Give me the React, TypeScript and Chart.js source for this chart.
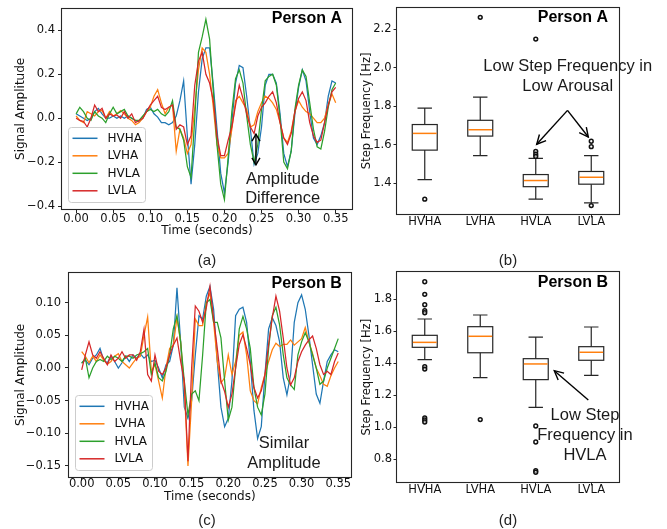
import React, { useEffect, useRef } from "react";
import { Chart, registerables } from "chart.js";

Chart.register(...registerables);

// ---------------- data ----------------
const TIME = [
  0.0, 0.005, 0.01, 0.015, 0.02, 0.025, 0.03, 0.035, 0.04, 0.045,
  0.05, 0.055, 0.06, 0.065, 0.07, 0.075, 0.08, 0.085, 0.09, 0.095,
  0.1, 0.105, 0.11, 0.115, 0.12, 0.125, 0.13, 0.135, 0.14, 0.145,
  0.15, 0.155, 0.16, 0.165, 0.17, 0.175, 0.18, 0.185, 0.19, 0.195,
  0.2, 0.205, 0.21, 0.215, 0.22, 0.225, 0.23, 0.235, 0.24, 0.245,
  0.25, 0.255, 0.26, 0.265, 0.27, 0.275, 0.28, 0.285, 0.29, 0.295,
  0.3, 0.305, 0.31, 0.315, 0.32, 0.325, 0.33, 0.335, 0.34, 0.345,
  0.35,
];
const SERIES = ["HVHA", "LVHA", "HVLA", "LVLA"];
const SERIES_COLORS = ["#1f77b4", "#ff7f0e", "#2ca02c", "#d62728"];

// Person A signals (panel a)
const A_HVHA = [
  0.02, 0.01, 0.0, -0.01, 0.0, 0.03, 0.045, 0.02, 0.0, 0.0,
  0.01, 0.0, 0.01, 0.0, 0.01, 0.0, -0.01, -0.015, 0.0, 0.04,
  0.05, 0.02, 0.005, -0.02, -0.02, -0.03, -0.02, 0.01, 0.08, 0.17,
  -0.08, -0.3, -0.12, 0.12, 0.27, 0.32, 0.32, 0.15, -0.05, -0.25,
  -0.34, -0.2, -0.02, 0.16, 0.24, 0.23, 0.1, -0.05, -0.21, -0.16,
  -0.04, 0.15, 0.2, 0.2, 0.16, 0.02, -0.16, -0.22, -0.15, 0.02,
  0.14, 0.22, 0.17, 0.03, -0.09, -0.12, -0.08, -0.02, 0.1, 0.17,
  0.16,
];
const A_LVHA = [
  0.01, -0.01, -0.02, 0.03, 0.02, 0.01, 0.03, 0.035, 0.0, 0.03,
  0.01, 0.02, 0.035, 0.02, 0.0, -0.01, -0.03, -0.02, 0.0, 0.03,
  0.05, 0.1, 0.13, 0.07, 0.02, 0.05, 0.06, -0.15, -0.05, -0.09,
  -0.16, -0.12, 0.05, 0.22, 0.32, 0.3, 0.2, 0.05, -0.12, -0.18,
  -0.18, -0.16, -0.05, 0.08, 0.1, 0.07, 0.04, -0.04, -0.03, 0.03,
  0.07, 0.1, 0.09, 0.07, 0.04, -0.02, -0.09, -0.11, -0.06, 0.03,
  0.08, 0.05, 0.03, 0.02, 0.0, -0.02, -0.02, 0.0, 0.06, 0.11,
  0.07,
];
const A_HVLA = [
  0.02, 0.05, 0.03, 0.0, -0.01, 0.03, 0.01, 0.0, -0.02, 0.02,
  0.05, 0.02, 0.03, 0.04, 0.01, 0.0, -0.01, -0.01, 0.01, 0.03,
  0.04, 0.03, 0.04, 0.02, 0.01, 0.03, 0.08, -0.04, -0.05, -0.1,
  -0.22, -0.27, 0.0, 0.3, 0.37, 0.45, 0.36, 0.12, -0.12, -0.3,
  -0.37, -0.18, 0.03, 0.18, 0.22, 0.16, 0.01, -0.12, -0.2, -0.12,
  0.04, 0.17, 0.19, 0.2, 0.15, 0.0, -0.2, -0.23, -0.15, 0.04,
  0.15, 0.22, 0.19, 0.07, -0.05, -0.13, -0.14, -0.06, 0.05, 0.13,
  0.16,
];
const A_LVLA = [
  0.0, -0.01, -0.015, -0.04, 0.0, 0.06, 0.03, 0.045, 0.0, 0.02,
  0.01, 0.015, 0.0, 0.03, 0.0, 0.02, -0.02, -0.01, 0.0, 0.03,
  0.06, 0.08, 0.1, 0.05, 0.04, 0.05, 0.06, -0.05, -0.03, -0.04,
  -0.12, -0.08, 0.15, 0.26, 0.3, 0.2, 0.16, 0.08, -0.08, -0.17,
  -0.17, -0.1, -0.04, 0.06, 0.15, 0.09, 0.02, -0.04, -0.07, 0.01,
  0.05, 0.07, 0.1, 0.12, 0.07, -0.02, -0.09, -0.12, -0.07, 0.03,
  0.09, 0.12, 0.08, -0.02, -0.08, -0.11, -0.1, -0.02, 0.06, 0.12,
  0.14,
];

// Person B signals (panel c)
const C_HVHA = [
  0.008, 0.012, 0.005, 0.015, 0.02, 0.03, 0.012, 0.008, 0.018, 0.01,
  0.0, 0.008, 0.018, 0.01, 0.02, 0.015, 0.022, 0.015, 0.02, 0.01,
  0.012, 0.0, -0.015, 0.005, 0.01, 0.035, 0.123, 0.04, -0.06, -0.077,
  -0.05, 0.02, 0.08, 0.075, 0.11, 0.125, 0.09, 0.01, -0.06, -0.09,
  -0.077, -0.02, 0.08, 0.09, 0.093, 0.07, 0.01, -0.065, -0.108, -0.09,
  -0.01, 0.06, 0.077, 0.065, 0.04, -0.015, -0.041, -0.01, 0.07, 0.1,
  0.112, 0.09, 0.05, 0.005, -0.04, -0.054, -0.02, 0.01, 0.02, 0.028,
  0.025,
];
const C_LVHA = [
  0.025, 0.018, 0.008, 0.018, 0.01, 0.02, 0.012, 0.006, 0.01, 0.018,
  0.022, 0.01, 0.005, 0.0, 0.008, 0.015, 0.018, 0.05, 0.078, -0.005,
  0.005, -0.02, -0.046, 0.0, 0.03, 0.035, 0.077, 0.04, -0.03, -0.15,
  -0.05, 0.075, 0.065, 0.065, 0.1, 0.115, 0.07, 0.01, -0.023, -0.015,
  0.02, -0.01, 0.01, 0.05, 0.055, 0.02, -0.035, -0.05, -0.055, -0.03,
  -0.01, 0.01, 0.028, 0.038, 0.033, 0.036, 0.036, 0.043, 0.035, 0.04,
  0.045, 0.062, 0.04, 0.022, 0.0, -0.012, -0.025, -0.028, -0.012, 0.0,
  0.01,
];
const C_HVLA = [
  0.007, 0.015, -0.015, 0.0, 0.01, 0.013, 0.01, 0.018, 0.013, 0.018,
  0.015, 0.01, 0.018, 0.018, 0.015, 0.02, 0.022, 0.025, 0.03, -0.01,
  0.008, -0.015, -0.02, -0.005, 0.02, 0.06, 0.08, 0.04, -0.02, -0.072,
  -0.04, -0.035, -0.05, 0.02, 0.1, 0.105, 0.07, 0.07, 0.046, -0.02,
  -0.08, -0.06, 0.0, 0.06, 0.079, 0.06, 0.03, -0.03, -0.06, -0.072,
  -0.04, 0.03, 0.08, 0.093, 0.066, 0.02, -0.015, -0.026, -0.033, 0.02,
  0.04, 0.054, 0.04, 0.02, 0.0, -0.025, -0.02, 0.0, 0.015, 0.03,
  0.045,
];
const C_LVLA = [
  -0.003, 0.02, 0.04, 0.02, 0.015, 0.025, 0.015, 0.005, 0.02, 0.01,
  0.015, 0.025, 0.015, 0.02, 0.02, 0.012, 0.025, 0.059, -0.01, -0.02,
  0.02, -0.005, -0.01, 0.0, 0.02, 0.035, 0.046, 0.01, -0.02, -0.143,
  0.0, 0.095, 0.087, 0.07, 0.092, 0.125, 0.075, 0.03, -0.02, -0.036,
  -0.06, -0.04, 0.0, 0.036, 0.051, 0.03, 0.005, -0.03, -0.046, -0.035,
  -0.01, 0.036, 0.077, 0.11, 0.087, 0.046, 0.0, -0.026, -0.015, 0.01,
  0.025, 0.035, 0.043, 0.049, 0.03, 0.005, -0.01, -0.005, -0.01, 0.01,
  0.023,
];

const TIME_TICKS = [0, 0.05, 0.1, 0.15, 0.2, 0.25, 0.3, 0.35];
const A_Y_TICKS = [-0.4, -0.2, 0, 0.2, 0.4];
const C_Y_TICKS = [-0.15, -0.1, -0.05, 0, 0.05, 0.1];
const B_Y_TICKS = [1.4, 1.6, 1.8, 2.0, 2.2];
const D_Y_TICKS = [0.8, 1.0, 1.2, 1.4, 1.6, 1.8];
const CATEGORIES = ["HVHA", "LVHA", "HVLA", "LVLA"];

// Person A step frequency box stats (panel b)
const B_WHISK_LO = [1.42, 1.544, 1.318, 1.299];
const B_Q1 = [1.573, 1.646, 1.383, 1.396];
const B_MEDIAN = [1.66, 1.679, 1.415, 1.432];
const B_Q3 = [1.706, 1.728, 1.446, 1.462];
const B_WHISK_HI = [1.791, 1.848, 1.53, 1.544];
const B_OUTLIERS = [[1.318], [2.263], [2.15, 1.566, 1.552, 1.54], [1.619, 1.591, 1.285]];

// Person B step frequency box stats (panel d)
const D_WHISK_LO = [1.423, 1.31, 1.125, 1.325];
const D_Q1 = [1.5, 1.466, 1.298, 1.419];
const D_MEDIAN = [1.531, 1.569, 1.396, 1.469];
const D_Q3 = [1.575, 1.629, 1.429, 1.504];
const D_WHISK_HI = [1.677, 1.702, 1.564, 1.627];
const D_OUTLIERS = [
  [1.91, 1.831, 1.766, 1.729, 1.716, 1.379, 1.364, 1.058, 1.046, 1.033],
  [1.048],
  [1.008, 0.908, 0.729, 0.719],
  [],
];

// ---------------- styling helpers ----------------
const INK = "#111111";
const AXIS = "#262626";
const TICK_FONT = '"DejaVu Sans", sans-serif';
const ANN_FONT = '"Liberation Sans", Arial, sans-serif';

type Rect = { left: number; top: number; width: number; height: number };
type Area = { left: number; top: number; right: number; bottom: number };

const fmtDec = (d: number) => (v: number) => Number(v).toFixed(d).replace("-", "\u2212");

function axisConf(o: {
  horizontal: boolean;
  min: number;
  max: number;
  ticks: number[];
  fmt: (v: number) => string;
  size: number;
  tickLen: number;
  tickPad: number;
  tickSize: number;
  title?: string;
  titleSize?: number;
  titlePad?: number;
}) {
  const ts = o.titleSize || 12;
  return {
    type: "linear",
    bounds: "data",
    min: o.min,
    max: o.max,
    afterBuildTicks: (s: any) => {
      s.ticks = o.ticks.map((v) => ({ value: v }));
    },
    afterFit: (s: any) => {
      if (o.horizontal) s.height = o.size;
      else s.width = o.size;
    },
    ticks: {
      autoSkip: false,
      maxRotation: 0,
      minRotation: 0,
      padding: o.tickPad,
      color: INK,
      font: { family: TICK_FONT, size: o.tickSize, lineHeight: 1 },
      callback: (v: any) => o.fmt(Number(v)),
    },
    grid: {
      display: true,
      drawOnChartArea: false,
      drawTicks: true,
      tickLength: o.tickLen,
      color: AXIS,
      lineWidth: 1,
    },
    border: { display: false },
    title: o.title
      ? {
          display: true,
          text: o.title,
          color: INK,
          font: { family: TICK_FONT, size: ts, lineHeight: 1.2 },
          padding: o.horizontal ? { top: 0, bottom: o.titlePad } : { top: o.titlePad, bottom: 0 },
        }
      : { display: false },
  };
}

function drawFrame(ctx: CanvasRenderingContext2D, a: Area) {
  ctx.save();
  ctx.strokeStyle = AXIS;
  ctx.lineWidth = 1.1;
  const l = Math.round(a.left) - 0.5;
  const t = Math.round(a.top) - 0.5;
  const r = Math.round(a.right) + 0.5;
  const b = Math.round(a.bottom) + 0.5;
  ctx.strokeRect(l, t, r - l, b - t);
  ctx.restore();
}

function drawTag(ctx: CanvasRenderingContext2D, a: Area, text: string, dx: number, dy: number) {
  ctx.save();
  ctx.font = `bold 16px ${ANN_FONT}`;
  ctx.fillStyle = "#000";
  ctx.textAlign = "right";
  ctx.textBaseline = "middle";
  ctx.fillText(text, a.right - dx, a.top + dy);
  ctx.restore();
}

function drawCenteredText(ctx: CanvasRenderingContext2D, text: string, x: number, y: number) {
  ctx.save();
  ctx.font = `16.5px ${ANN_FONT}`;
  ctx.fillStyle = "#1a1a1a";
  ctx.textAlign = "center";
  ctx.textBaseline = "middle";
  ctx.fillText(text, x, y);
  ctx.restore();
}

function head(ctx: CanvasRenderingContext2D, x1: number, y1: number, x2: number, y2: number, len: number, half: number) {
  const ang = Math.atan2(y2 - y1, x2 - x1);
  const c = Math.cos(ang);
  const s = Math.sin(ang);
  ctx.beginPath();
  ctx.moveTo(x2 - len * c + half * s, y2 - len * s - half * c);
  ctx.lineTo(x2, y2);
  ctx.lineTo(x2 - len * c - half * s, y2 - len * s + half * c);
  ctx.stroke();
}

function drawArrow(
  ctx: CanvasRenderingContext2D,
  x1: number, y1: number, x2: number, y2: number,
  both: boolean, len: number, half: number
) {
  ctx.save();
  ctx.strokeStyle = "#000";
  ctx.lineWidth = 1.4;
  ctx.lineJoin = "miter";
  ctx.beginPath();
  ctx.moveTo(x1, y1);
  ctx.lineTo(x2, y2);
  ctx.stroke();
  head(ctx, x1, y1, x2, y2, len, half);
  if (both) head(ctx, x2, y2, x1, y1, len, half);
  ctx.restore();
}

function drawLegend(ctx: CanvasRenderingContext2D, a: Area) {
  const w = 77;
  const h = 75;
  const x = a.left + 6.5;
  const y = a.bottom - 6.5 - h;
  ctx.save();
  ctx.beginPath();
  (ctx as any).roundRect(x, y, w, h, 3);
  ctx.fillStyle = "rgba(255,255,255,0.8)";
  ctx.fill();
  ctx.strokeStyle = "#cccccc";
  ctx.lineWidth = 1;
  ctx.stroke();
  SERIES.forEach((name, i) => {
    const yy = y + 10.8 + 17.5 * i;
    ctx.strokeStyle = SERIES_COLORS[i];
    ctx.lineWidth = 1.5;
    ctx.beginPath();
    ctx.moveTo(x + 4, yy);
    ctx.lineTo(x + 29, yy);
    ctx.stroke();
    ctx.fillStyle = INK;
    ctx.font = `12px ${TICK_FONT}`;
    ctx.textAlign = "left";
    ctx.textBaseline = "middle";
    ctx.fillText(name, x + 39, yy + 0.5);
  });
  ctx.restore();
}

// ---------------- panel configs ----------------
type LinePanel = {
  rect: Rect;
  area: Area;
  series: number[][];
  xMin: number;
  xMax: number;
  yMin: number;
  yMax: number;
  yTicks: number[];
  yDec: number;
  xLabelY: number;
  xTitleY: number;
  yTitleX: number;
  yTickLen: number;
  yTickPad: number;
  tag: string;
  tagDx: number;
  tagDy: number;
  notes: { text: string; x: number; y: number }[];
  dbl?: { x: number; y1: number; y2: number };
};

function lineConfig(p: LinePanel) {
  const tickSize = 11.5;
  const xTickLen = 4;
  const datasets = p.series.map((vals, i) => ({
    label: SERIES[i],
    data: TIME.map((t, k) => ({ x: t, y: vals[k] })),
    borderColor: SERIES_COLORS[i],
    backgroundColor: SERIES_COLORS[i],
    borderWidth: 1.25,
    pointRadius: 0,
    tension: 0,
    fill: false,
    order: p.series.length - 1 - i,
  }));
  const bottom = p.rect.top + p.rect.height;
  return {
    type: "line",
    data: { datasets },
    options: {
      responsive: false,
      animation: false,
      devicePixelRatio: 1,
      events: [],
      layout: {
        padding: {
          left: 0,
          top: p.area.top - p.rect.top,
          right: p.rect.left + p.rect.width - p.area.right,
          bottom: 0,
        },
      },
      plugins: { legend: { display: false }, tooltip: { enabled: false }, title: { display: false } },
      scales: {
        x: axisConf({
          horizontal: true,
          min: p.xMin,
          max: p.xMax,
          ticks: TIME_TICKS,
          fmt: fmtDec(2),
          size: bottom - p.area.bottom,
          tickLen: xTickLen,
          tickPad: p.xLabelY - p.area.bottom - xTickLen - tickSize / 2,
          tickSize,
          title: "Time (seconds)",
          titleSize: 12,
          titlePad: bottom - p.xTitleY - 7.2,
        }),
        y: axisConf({
          horizontal: false,
          min: p.yMin,
          max: p.yMax,
          ticks: p.yTicks,
          fmt: fmtDec(p.yDec),
          size: p.area.left - p.rect.left,
          tickLen: p.yTickLen,
          tickPad: p.yTickPad,
          tickSize,
          title: "Signal Amplitude",
          titleSize: 12,
          titlePad: p.yTitleX - p.rect.left - 7.2,
        }),
      },
    },
    plugins: [
      {
        id: "decor",
        afterDraw(chart: any) {
          const { ctx, chartArea, scales } = chart;
          const a: Area = chartArea;
          drawFrame(ctx, a);
          drawTag(ctx, a, p.tag, p.tagDx, p.tagDy);
          p.notes.forEach((n) =>
            drawCenteredText(ctx, n.text, scales.x.getPixelForValue(n.x), scales.y.getPixelForValue(n.y))
          );
          if (p.dbl) {
            const x = scales.x.getPixelForValue(p.dbl.x);
            drawArrow(ctx, x, scales.y.getPixelForValue(p.dbl.y1), x, scales.y.getPixelForValue(p.dbl.y2), true, 7, 4);
          }
          drawLegend(ctx, a);
        },
      },
    ],
  };
}

type BoxPanel = {
  rect: Rect;
  area: Area;
  lo: number[];
  q1: number[];
  med: number[];
  q3: number[];
  hi: number[];
  outliers: number[][];
  yMin: number;
  yMax: number;
  yTicks: number[];
  xLabelY: number;
  yTitleX: number;
  yTickPad: number;
  tag: string;
  tagDx: number;
  tagDy: number;
  notes: { text: string; x: number; y: number }[];
  arrows: { x1: number; y1: number; x2: number; y2: number }[];
};

function boxConfig(p: BoxPanel) {
  const tickSize = 11.5;
  const tickLen = 3.5;
  const bottom = p.rect.top + p.rect.height;
  const pts: { x: number; y: number }[] = [];
  p.outliers.forEach((arr, i) => arr.forEach((v) => pts.push({ x: i + 1, y: v })));
  return {
    type: "scatter",
    data: {
      datasets: [
        {
          label: "outliers",
          data: pts,
          pointRadius: 1.9,
          pointBorderWidth: 1.5,
          pointBorderColor: "#111",
          pointBackgroundColor: "rgba(255,255,255,0.6)",
          borderColor: "#111",
          backgroundColor: "rgba(255,255,255,0.6)",
          showLine: false,
        },
      ],
    },
    options: {
      responsive: false,
      animation: false,
      devicePixelRatio: 1,
      events: [],
      layout: {
        padding: {
          left: 0,
          top: p.area.top - p.rect.top,
          right: p.rect.left + p.rect.width - p.area.right,
          bottom: 0,
        },
      },
      plugins: { legend: { display: false }, tooltip: { enabled: false }, title: { display: false } },
      scales: {
        x: axisConf({
          horizontal: true,
          min: 0.5,
          max: CATEGORIES.length + 0.5,
          ticks: CATEGORIES.map((_, i) => i + 1),
          fmt: (v: number) => CATEGORIES[Math.round(v) - 1] || "",
          size: bottom - p.area.bottom,
          tickLen,
          tickPad: p.xLabelY - p.area.bottom - tickLen - tickSize / 2,
          tickSize,
        }),
        y: axisConf({
          horizontal: false,
          min: p.yMin,
          max: p.yMax,
          ticks: p.yTicks,
          fmt: fmtDec(1),
          size: p.area.left - p.rect.left,
          tickLen,
          tickPad: p.yTickPad,
          tickSize,
          title: "Step Frequency [Hz]",
          titleSize: 11.5,
          titlePad: p.yTitleX - p.rect.left - 6.9,
        }),
      },
    },
    plugins: [
      {
        id: "boxes",
        beforeDatasetsDraw(chart: any) {
          const { ctx, scales } = chart;
          const xs = scales.x;
          const ys = scales.y;
          ctx.save();
          CATEGORIES.forEach((_, i) => {
            const xc = xs.getPixelForValue(i + 1);
            const hw = xs.getPixelForValue(i + 1 + 0.225) - xc;
            const cw = xs.getPixelForValue(i + 1 + 0.13) - xc;
            const pLo = ys.getPixelForValue(p.lo[i]);
            const pQ1 = ys.getPixelForValue(p.q1[i]);
            const pMed = ys.getPixelForValue(p.med[i]);
            const pQ3 = ys.getPixelForValue(p.q3[i]);
            const pHi = ys.getPixelForValue(p.hi[i]);
            ctx.strokeStyle = AXIS;
            ctx.lineWidth = 1.2;
            ctx.beginPath();
            ctx.moveTo(xc, pQ1);
            ctx.lineTo(xc, pLo);
            ctx.moveTo(xc, pQ3);
            ctx.lineTo(xc, pHi);
            ctx.moveTo(xc - cw, pLo);
            ctx.lineTo(xc + cw, pLo);
            ctx.moveTo(xc - cw, pHi);
            ctx.lineTo(xc + cw, pHi);
            ctx.stroke();
            ctx.strokeRect(xc - hw, pQ3, 2 * hw, pQ1 - pQ3);
            ctx.strokeStyle = "#ff7f0e";
            ctx.lineWidth = 1.5;
            ctx.beginPath();
            ctx.moveTo(xc - hw + 0.6, pMed);
            ctx.lineTo(xc + hw - 0.6, pMed);
            ctx.stroke();
          });
          ctx.restore();
        },
        afterDraw(chart: any) {
          const { ctx, chartArea, scales } = chart;
          const a: Area = chartArea;
          drawFrame(ctx, a);
          drawTag(ctx, a, p.tag, p.tagDx, p.tagDy);
          p.notes.forEach((n) =>
            drawCenteredText(ctx, n.text, scales.x.getPixelForValue(n.x), scales.y.getPixelForValue(n.y))
          );
          p.arrows.forEach((ar) =>
            drawArrow(
              ctx,
              scales.x.getPixelForValue(ar.x1),
              scales.y.getPixelForValue(ar.y1),
              scales.x.getPixelForValue(ar.x2),
              scales.y.getPixelForValue(ar.y2),
              false,
              9,
              4.5
            )
          );
        },
      },
    ],
  };
}

// ---------------- panels ----------------
const PANEL_A: LinePanel = {
  rect: { left: 0, top: 0, width: 356, height: 248 },
  area: { left: 62, top: 5, right: 352, bottom: 209 },
  series: [A_HVHA, A_LVHA, A_HVLA, A_LVLA],
  xMin: -0.019,
  xMax: 0.372,
  yMin: -0.413,
  yMax: 0.498,
  yTicks: A_Y_TICKS,
  yDec: 1,
  xLabelY: 218.8,
  xTitleY: 230.7,
  yTitleX: 20.7,
  yTickLen: 4,
  yTickPad: 3,
  tag: "Person A",
  tagDx: 10,
  tagDy: 9.5,
  notes: [
    { text: "Amplitude", x: 0.2785, y: -0.279 },
    { text: "Difference", x: 0.2785, y: -0.364 },
  ],
  dbl: { x: 0.2425, y1: -0.072, y2: -0.212 },
};

const PANEL_C: LinePanel = {
  rect: { left: 0, top: 262, width: 356, height: 267 },
  area: { left: 69, top: 272.7, right: 350.7, bottom: 477 },
  series: [C_HVHA, C_LVHA, C_HVLA, C_LVLA],
  xMin: -0.0173,
  xMax: 0.367,
  yMin: -0.167,
  yMax: 0.146,
  yTicks: C_Y_TICKS,
  yDec: 2,
  xLabelY: 484.5,
  xTitleY: 497.3,
  yTitleX: 21,
  yTickLen: 4,
  yTickPad: 4,
  tag: "Person B",
  tagDx: 9,
  tagDy: 10.5,
  notes: [
    { text: "Similar", x: 0.276, y: -0.116 },
    { text: "Amplitude", x: 0.276, y: -0.146 },
  ],
};

const PANEL_B: BoxPanel = {
  rect: { left: 356, top: 0, width: 311, height: 248 },
  area: { left: 397, top: 5, right: 619, bottom: 214 },
  lo: B_WHISK_LO,
  q1: B_Q1,
  med: B_MEDIAN,
  q3: B_Q3,
  hi: B_WHISK_HI,
  outliers: B_OUTLIERS,
  yMin: 1.241,
  yMax: 2.313,
  yTicks: B_Y_TICKS,
  xLabelY: 222.5,
  yTitleX: 367.3,
  yTickPad: 2,
  tag: "Person A",
  tagDx: 11,
  tagDy: 10,
  notes: [
    { text: "Low Step Frequency in", x: 3.576, y: 2.01 },
    { text: "Low Arousal", x: 3.576, y: 1.906 },
  ],
  arrows: [
    { x1: 3.572, y1: 1.7795, x2: 3.017, y2: 1.6036 },
    { x1: 3.572, y1: 1.7795, x2: 3.947, y2: 1.641 },
  ],
};

const PANEL_D: BoxPanel = {
  rect: { left: 356, top: 262, width: 311, height: 267 },
  area: { left: 397, top: 272.3, right: 619, bottom: 482 },
  lo: D_WHISK_LO,
  q1: D_Q1,
  med: D_MEDIAN,
  q3: D_Q3,
  hi: D_WHISK_HI,
  outliers: D_OUTLIERS,
  yMin: 0.658,
  yMax: 1.969,
  yTicks: D_Y_TICKS,
  xLabelY: 490.5,
  yTitleX: 367.3,
  yTickPad: 1.5,
  tag: "Person B",
  tagDx: 11,
  tagDy: 10.7,
  notes: [
    { text: "Low Step", x: 3.887, y: 1.0725 },
    { text: "Frequency in", x: 3.887, y: 0.9475 },
    { text: "HVLA", x: 3.887, y: 0.827 },
  ],
  arrows: [{ x1: 3.947, y1: 1.1706, x2: 3.334, y2: 1.354 }],
};

// ---------------- components ----------------
function ChartCanvas({ rect, make }: { rect: Rect; make: () => any }) {
  const ref = useRef<HTMLCanvasElement | null>(null);
  useEffect(() => {
    if (!ref.current) return;
    const chart = new Chart(ref.current, make());
    return () => chart.destroy();
  }, []);
  return (
    <canvas
      ref={ref}
      width={rect.width}
      height={rect.height}
      style={{ position: "absolute", left: rect.left, top: rect.top, width: rect.width, height: rect.height }}
    />
  );
}

function PanelLabel({ text, cx, cy }: { text: string; cx: number; cy: number }) {
  return (
    <div
      style={{
        position: "absolute",
        left: cx - 20,
        top: cy - 9,
        width: 40,
        height: 18,
        lineHeight: "18px",
        textAlign: "center",
        font: `15px ${ANN_FONT}`,
        color: "#222",
      }}
    >
      {text}
    </div>
  );
}

export default function App() {
  return (
    <div
      style={{
        position: "fixed",
        left: 0,
        top: 0,
        width: 667,
        height: 529,
        background: "#fff",
        overflow: "hidden",
      }}
    >
      <ChartCanvas rect={PANEL_A.rect} make={() => lineConfig(PANEL_A)} />
      <ChartCanvas rect={PANEL_B.rect} make={() => boxConfig(PANEL_B)} />
      <ChartCanvas rect={PANEL_C.rect} make={() => lineConfig(PANEL_C)} />
      <ChartCanvas rect={PANEL_D.rect} make={() => boxConfig(PANEL_D)} />
      <PanelLabel text="(a)" cx={207} cy={259.5} />
      <PanelLabel text="(b)" cx={508} cy={259.5} />
      <PanelLabel text="(c)" cx={207} cy={519.5} />
      <PanelLabel text="(d)" cx={508} cy={519.5} />
    </div>
  );
}
